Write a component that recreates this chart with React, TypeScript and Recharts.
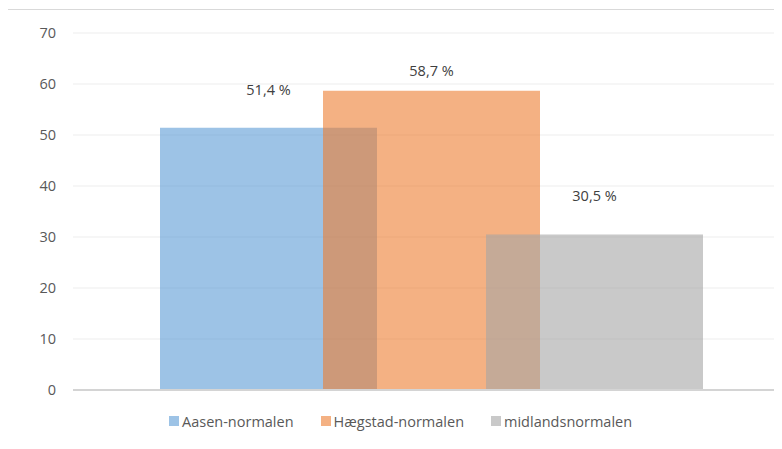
import { BarChart, Bar, XAxis, YAxis, CartesianGrid, Legend, LabelList } from 'recharts';

const seriesNames = ['Aasen-normalen', 'Hægstad-normalen', 'midlandsnormalen'];
const seriesValues = [51.4, 58.7, 30.5];
const seriesColors = ['#5B9BD5', '#ED7D31', '#A5A5A5'];
const legendColors = ['#9DC3E6', '#F4B183', '#C9C9C9'];
const labelOffsets = [38, 20, 39];
const yTicks = [0, 10, 20, 30, 40, 50, 60, 70];

const data = [
  seriesNames.reduce(
    (row, _name, i) => ({ ...row, [`s${i}`]: seriesValues[i] }),
    { name: '' } as Record<string, string | number>
  ),
];

const FONT = '"Open Sans", sans-serif';
const FS = 14.5;

function makeLabel(offset: number) {
  return (props: any) => {
    const { x, y, width, value } = props;
    return (
      <text
        x={Number(x) + Number(width) / 2}
        y={Number(y) - offset}
        textAnchor="middle"
        dominantBaseline="central"
        fill="#404040"
        fontSize={FS}
        fontFamily={FONT}
      >
        {`${String(value).replace('.', ',')} %`}
      </text>
    );
  };
}

function LegendContent() {
  return (
    <div
      style={{
        display: 'flex',
        alignItems: 'center',
        paddingLeft: 156,
        height: 20,
        fontFamily: FONT,
        fontSize: FS,
        color: '#595959',
      }}
    >
      {seriesNames.map((name, i) => (
        <div key={name} style={{ display: 'flex', alignItems: 'center', marginRight: 27 }}>
          <span style={{ width: 10, height: 10, background: legendColors[i], marginRight: 3, display: 'inline-block' }} />
          <span>{name}</span>
        </div>
      ))}
    </div>
  );
}

export default function App() {
  return (
    <div
      style={{
        width: 774,
        height: 439,
        marginLeft: -1,
        marginTop: 1,
        borderLeft: '1px solid #d9d9d9',
        borderTop: '1px solid #d9d9d9',
        overflow: 'hidden',
        background: '#fff',
      }}
    >
      <BarChart
        width={774}
        height={439}
        data={data}
        barGap={-54}
        margin={{ top: 23, right: 0, left: 5, bottom: 18 }}
      >
        <CartesianGrid vertical={false} stroke="#ededed" />
        <XAxis
          dataKey="name"
          tick={false}
          tickLine={false}
          height={21}
          padding={{ left: 7, right: 0 }}
          axisLine={{ stroke: '#d4d4d4', strokeWidth: 2 }}
        />
        <YAxis
          domain={[0, 70]}
          ticks={yTicks}
          width={60}
          axisLine={false}
          tickLine={false}
          tickMargin={11}
          tick={{ fill: '#595959', fontSize: FS, fontFamily: FONT }}
        />
        <Legend verticalAlign="bottom" content={<LegendContent />} wrapperStyle={{ height: 20 }} />
        {seriesNames.map((name, i) => (
          <Bar
            key={name}
            dataKey={`s${i}`}
            name={name}
            barSize={217}
            fill={seriesColors[i]}
            fillOpacity={0.6}
            isAnimationActive={false}
          >
            <LabelList dataKey={`s${i}`} content={makeLabel(labelOffsets[i])} />
          </Bar>
        ))}
      </BarChart>
    </div>
  );
}
